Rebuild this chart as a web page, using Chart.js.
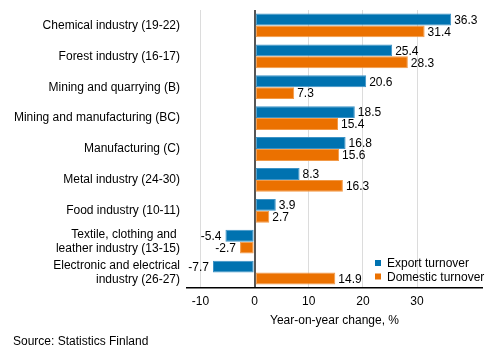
<!DOCTYPE html>
<html>
<head>
<meta charset="utf-8">
<script src="https://cdn.jsdelivr.net/npm/chart.js@4"></script>
<style>
  html, body { margin: 0; padding: 0; background: #fff; }
  #wrap { width: 493px; height: 360px; position: relative; }
</style>
</head>
<body>
<div id="wrap"><canvas id="turnover"></canvas></div>
<script>
const categories = [
    "Chemical industry (19-22)",
    "Forest industry (16-17)",
    "Mining and quarrying (B)",
    "Mining and manufacturing (BC)",
    "Manufacturing (C)",
    "Metal industry (24-30)",
    "Food industry (10-11)",
    ["Textile, clothing and ", "leather industry (13-15)"],
    ["Electronic and electrical", "industry (26-27)"]
];
const exportTurnover = [36.3, 25.4, 20.6, 18.5, 16.8, 8.3, 3.9, -5.4, -7.7];
const domesticTurnover = [31.4, 28.3, 7.3, 15.4, 15.6, 16.3, 2.7, -2.7, 14.9];
const xTicks = [-10, 0, 10, 20, 30];
const seriesNames = ["Export turnover", "Domestic turnover"];
const colors = ['#0072b0', '#eb7100'];
const edgeColors = ['#3d93c6', '#f29a48'];

const FONT = "'Liberation Sans', Arial, sans-serif";

// value labels, legend, axis title and source
const extras = {
    id: 'extras',
    afterDatasetsDraw(chart) {
        const c = chart.ctx;
        c.save();
        c.font = "12px " + FONT;
        c.fillStyle = '#000';
        c.textBaseline = 'middle';
        chart.data.datasets.forEach((ds, di) => {
            chart.getDatasetMeta(di).data.forEach((bar, i) => {
                const v = ds.data[i];
                const txt = v.toFixed(1);
                if (v >= 0) {
                    c.textAlign = 'left';
                    c.fillText(txt, bar.x + 3, bar.y + 1);
                } else {
                    c.textAlign = 'right';
                    c.fillText(txt, bar.x - 4, bar.y + 1);
                }
            });
        });

        // legend
        const lx = 375, ly = [263, 276.5];
        seriesNames.forEach((name, i) => {
            c.fillStyle = colors[i];
            c.fillRect(lx, ly[i] - 3, 6, 6);
            c.fillStyle = '#000';
            c.textAlign = 'left';
            c.fillText(name, lx + 12, ly[i] + 1);
        });

        // axis title
        const area = chart.chartArea;
        c.textAlign = 'center';
        c.fillText("Year-on-year change, %", (area.left + area.right) / 2, 321);

        // source
        c.textAlign = 'left';
        c.fillText("Source: Statistics Finland", 13, 342);
        c.restore();
    }
};

const chart = new Chart(document.getElementById('turnover'), {
    type: 'bar',
    data: {
        labels: categories,
        datasets: [
            {
                label: seriesNames[0],
                data: exportTurnover,
                backgroundColor: colors[0],
                borderColor: edgeColors[0],
                borderWidth: 1,
                borderSkipped: false
            },
            {
                label: seriesNames[1],
                data: domesticTurnover,
                backgroundColor: colors[1],
                borderColor: edgeColors[1],
                borderWidth: 1,
                borderSkipped: false
            }
        ]
    },
    options: {
        indexAxis: 'y',
        responsive: true,
        maintainAspectRatio: false,
        animation: false,
        datasets: {
            bar: { categoryPercentage: 0.77, barPercentage: 1 }
        },
        layout: { padding: { top: 10, right: 11, left: 0, bottom: 0 } },
        plugins: {
            legend: { display: false },
            tooltip: { enabled: false }
        },
        scales: {
            x: {
                min: -12.5,
                max: 42,
                afterBuildTicks: (scale) => {
                    scale.ticks = xTicks.map(v => ({ value: v }));
                },
                afterFit: (scale) => {
                    scale.height = 72;
                    scale.paddingLeft = 0;
                    scale.paddingRight = 0;
                },
                grid: {
                    drawTicks: false,
                    color: (ctx) => ctx.tick && ctx.tick.value === 0 ? '#555' : '#dcdcdc',
                    lineWidth: (ctx) => ctx.tick && ctx.tick.value === 0 ? 2 : 1
                },
                border: { display: true, color: '#000', width: 1.5 },
                ticks: {
                    color: '#000',
                    padding: 6,
                    font: { size: 12, family: FONT }
                }
            },
            y: {
                afterFit: (scale) => {
                    scale.width = 187;
                    scale.paddingTop = 0;
                    scale.paddingBottom = 0;
                },
                grid: { display: false, drawTicks: false },
                border: { display: false },
                ticks: {
                    color: '#000',
                    padding: 7,
                    autoSkip: false,
                    font: { size: 12, family: FONT, lineHeight: 1.17 }
                }
            }
        }
    },
    plugins: [extras]
});
</script>
</body>
</html>
